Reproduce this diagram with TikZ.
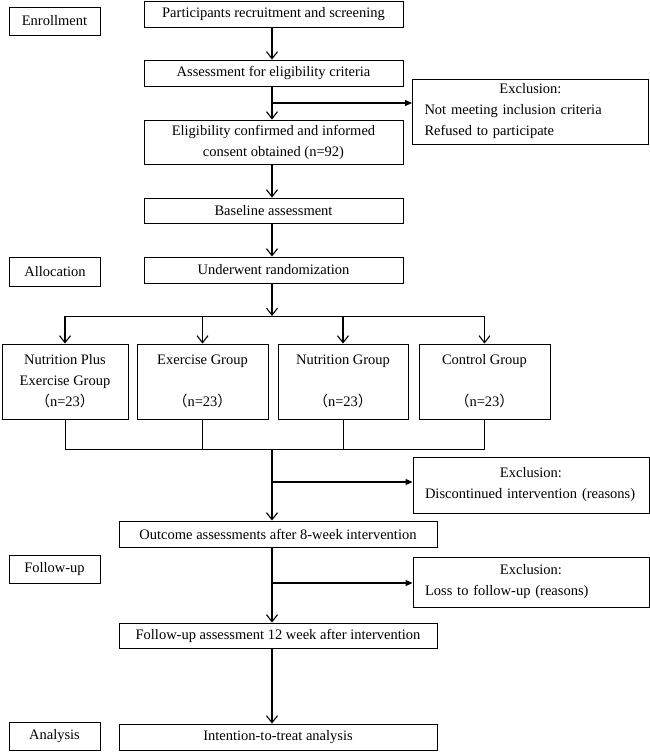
\documentclass[tikz,border=0pt]{standalone}
\usepackage{fontspec}
\setmainfont{Liberation Serif}
\newfontfamily\cjk{Noto Sans CJK SC}
\usetikzlibrary{arrows.meta}
\newcommand{\nsize}{{\cjk （}n=23{\cjk ）}}
\newcommand{\excltitle}{\makebox[\linewidth]{Exclusion:}}

\begin{document}
\begin{tikzpicture}[x=1pt,y=-1pt,
    box/.style={draw,line width=0.9pt,inner sep=0pt,align=center,
      font=\fontsize{14.5}{21}\selectfont},
    stage/.style={box,minimum width=91pt,minimum height=28pt},
    mainbox/.style={box,minimum width=259pt,minimum height=26pt},
    lowbox/.style={box,minimum width=318pt,minimum height=26pt},
    group/.style={box,minimum height=75pt},
    exclbox/.style={box,align=left,text width=212pt,inner xsep=12pt},
    flow/.style={line width=1.2pt,-{Straight Barb[length=7pt,width=11pt,line width=1.1pt]}},
    side/.style={line width=1.2pt,-{Triangle[length=7pt,width=6pt]}},
    link/.style={line width=1pt}]
  \useasboundingbox (0,0) rectangle (650,752);
    \node[stage] (enrol) at (54.5,21) {Enrollment};
    \node[stage,minimum height=29pt] (alloc) at (55,271.5) {Allocation};
    \node[stage] (fup) at (54.5,569) {Follow-up};
    \node[stage] (anal) at (54.5,736) {Analysis};
    \node[mainbox] (recruit) at (273.5,14) {Participants recruitment and screening};
    \node[mainbox] (assess) at (273.5,73) {Assessment for eligibility criteria};
    \node[mainbox,minimum height=44pt] (elig) at (273.5,142) {Eligibility confirmed and informed\\consent obtained (n=92)};
    \node[mainbox,minimum height=25pt] (base) at (273.5,210.5) {Baseline assessment};
    \node[mainbox] (rand) at (273.5,270) {Underwent randomization};
    \node[group,minimum width=126pt] (gnx) at (65,381.5) {Nutrition Plus\\Exercise Group\\\nsize};
    \node[group,minimum width=131pt] (gex) at (202.5,381.5) {Exercise Group\\ \\\nsize};
    \node[group,minimum width=130pt] (gnu) at (343,381.5) {Nutrition Group\\ \\\nsize};
    \node[group,minimum width=131pt] (gco) at (484.5,381.5) {Control Group\\ \\\nsize};
    \node[lowbox] (outcome) at (278,534) {Outcome assessments after 8-week intervention};
    \node[lowbox,minimum height=25pt] (follow) at (278,635.5) {Follow-up assessment 12 week after intervention};
    \node[lowbox] (intent) at (278,737) {Intention-to-treat analysis};
    \node[exclbox,minimum height=65pt] (excl1) at (530.5,111.5) {\excltitle\\Not meeting inclusion criteria\\Refused to participate};
    \node[exclbox,minimum height=56pt] (excl2) at (531,485) {\excltitle\\Discontinued intervention (reasons)};
    \node[exclbox,minimum height=50pt] (excl3) at (531,582) {\excltitle\\Loss to follow-up (reasons)};
    \coordinate (b1) at (272,103);
    \coordinate (s1) at (272,316);
    \coordinate (j1) at (272,449);
    \coordinate (b2) at (272,482);
    \coordinate (b3) at (272,583);
    \draw[flow] (recruit.south -| b1) -- (assess.north -| b1);
    \draw[flow] (assess.south -| b1) -- (elig.north -| b1);
    \draw[side] (b1) -- (b1 -| excl1.west);
    \draw[flow] (elig.south -| b1) -- (base.north -| b1);
    \draw[flow] (base.south -| b1) -- (rand.north -| b1);
    \draw[flow] (rand.south -| s1) -- (s1);
    \draw[link] (s1 -| gnx) -- (s1 -| gco);
    \draw[link] (j1 -| gnx) -- (j1 -| gco);
    \foreach \g in {gnx,gex,gnu,gco}{
      \draw[flow] (s1 -| \g) -- (\g.north);
      \draw[link] (\g.south) -- (j1 -| \g);
    }
    \draw[flow] (j1) -- (outcome.north -| j1);
    \draw[side] (b2) -- (b2 -| excl2.west);
    \draw[flow] (outcome.south -| j1) -- (follow.north -| j1);
    \draw[side] (b3) -- (b3 -| excl3.west);
    \draw[flow] (follow.south -| j1) -- (intent.north -| j1);
  \end{tikzpicture}
\end{document}
